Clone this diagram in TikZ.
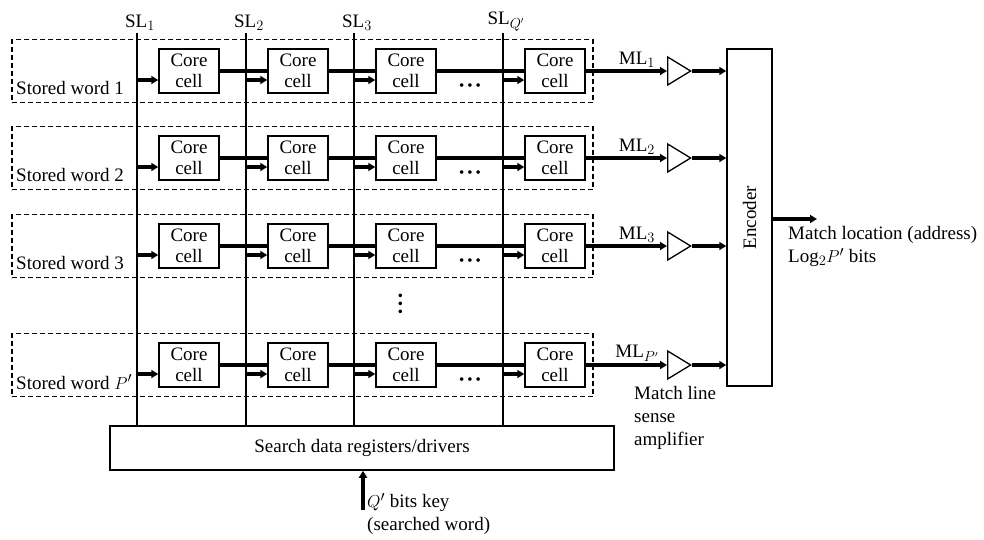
\documentclass[tikz,border=0pt]{standalone}
\usepackage{fontspec}
\setmainfont{Liberation Serif}
\usetikzlibrary{arrows.meta, positioning, shapes.geometric}

\begin{document}
\begin{tikzpicture}[
    x=1pt, y=-1pt,
    font=\fontsize{19}{23}\selectfont,
    txt/.style={inner sep=0pt},
    cellbox/.style={draw=black, line width=1.5pt, minimum width=60pt, minimum height=44pt, inner sep=0pt, align=center, font=\fontsize{19}{21}\selectfont},
    wordbox/.style={draw=black, line width=1.7pt, dash pattern=on 5pt off 3pt, minimum width=581pt, minimum height=63pt, inner sep=0pt},
    ampbox/.style={draw=black, line width=1.3pt, isosceles triangle, isosceles triangle stretches, minimum width=28pt, minimum height=23pt, inner sep=0pt},
    blockbox/.style={draw=black, line width=1.5pt, inner sep=0pt, align=center},
    dotsbox/.style={inner sep=0pt, font=\fontsize{15}{15}\selectfont},
    arrow/.style={-{Triangle[length=7pt, width=8pt]}, line width=3.5pt},
    wire/.style={line width=3.5pt},
    sline/.style={line width=2.4pt}
]
    \useasboundingbox (0,0) rectangle (984,539);

    % Search drivers at the bottom, encoder on the right.
    \node[blockbox, minimum width=504pt, minimum height=44pt] (search) at (362, 448) {Search data registers/drivers};
    \node[blockbox, minimum width=45pt, minimum height=337pt] (encoder) at (749.5, 217.5) {\rotatebox{90}{Encoder}};

    % Search lines run from their labels down to the drivers.
    \foreach \c/\sx/\sub in {1/137/1, 2/246/2, 3/354/3, 4/503/{Q'}} {
        \coordinate (sltop\c) at (\sx, 33);
        \node[txt, anchor=south] (sl\c) at ([xshift=3pt, yshift=2pt]sltop\c) {SL$_{\sub}$};
        \draw[sline] (sltop\c) -- (sltop\c |- search.north);
    }

    % One dashed row per stored word, four core cells each.
    \foreach \r/\y/\wname/\mlsub in {1/71/1/1, 2/158/2/2, 3/246/3/3, 4/365/{$P'$}/{P'}} {
        \node[wordbox] (word\r) at (302.5, \y) {};
        \node[txt, anchor=west] (name\r) at (16, \y+17) {Stored word \wname};
        \foreach \c/\sx in {1/137, 2/246, 3/354, 4/503} {
            \node[cellbox] (cell\r\c) at (\sx+52, \y) {Core\\cell};
            \draw[arrow] ([yshift=-9pt]cell\r\c.west -| sltop\c) -- ([yshift=-9pt]cell\r\c.west);
        }
        \draw[wire] (cell\r1.east) -- (cell\r2.west);
        \draw[wire] (cell\r2.east) -- (cell\r3.west);
        \draw[wire] (cell\r3.east) -- (cell\r4.west);
        \node[dotsbox] (hdots\r) at (470, \y+16) {\textbullet\hspace{3pt}\textbullet\hspace{3pt}\textbullet};

        % Match line to its sense amplifier and on to the encoder.
        \node[ampbox, anchor=lower side] (amp\r) at (667, \y) {};
        \node[txt, anchor=south] (ml\r) at (637, \y-3) {ML$_{\mlsub}$};
        \draw[arrow] (cell\r4.east) -- (amp\r.lower side);
        \draw[arrow] (amp\r.apex) -- (amp\r.apex -| encoder.west);
    }
    \node[dotsbox, rotate=90] (vdots) at (402, 304) {\textbullet\hspace{3pt}\textbullet\hspace{3pt}\textbullet};

    \node[txt, anchor=north west, align=left] (ampnote) at (634, 386) {Match line\\sense\\amplifier};

    % Encoder output.
    \coordinate (addr) at (817, 219);
    \draw[arrow] (encoder.east |- addr) -- (addr);
    \node[txt, anchor=north west, align=left] (addrtxt) at (788, 226) {Match location (address)\\Log$_2P'$ bits};

    % Search key input.
    \coordinate (keyin) at (363, 510);
    \draw[arrow] (keyin) -- (keyin |- search.south);
    \node[txt, anchor=north west, align=left] (keytxt) at (367, 493) {$Q'$ bits key\\(searched word)};
\end{tikzpicture}
\end{document}
